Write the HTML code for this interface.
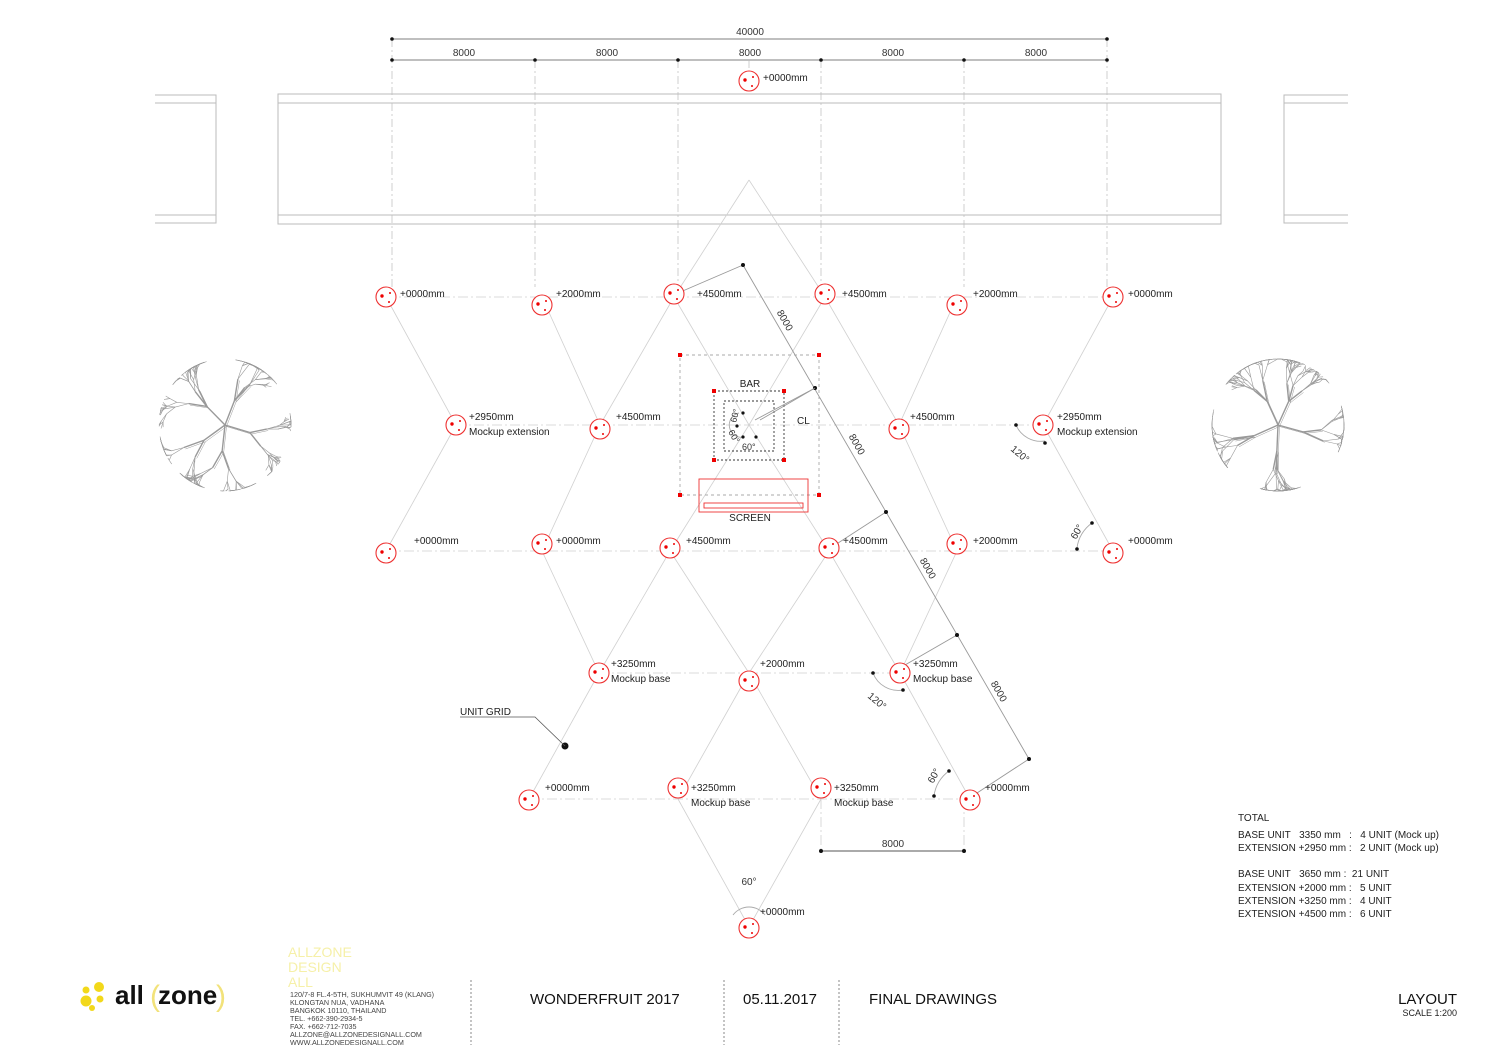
<!DOCTYPE html>
<html><head><meta charset="utf-8"><style>
html,body{margin:0;padding:0;background:#fff}
svg{display:block;fill:#222}
text{font-family:"Liberation Sans",sans-serif}
</style></head><body>
<svg id="s" width="1500" height="1060" viewBox="0 0 1500 1060" xmlns="http://www.w3.org/2000/svg">
<g stroke="#bbb" stroke-width="1" fill="none">
<path d="M155 95H216V223H155M155 103H216M155 215H216"/>
<rect x="278" y="94" width="943" height="130"/>
<path d="M278 103H1221M278 215H1221"/>
<path d="M1348 95H1284V223H1348M1284 103H1348M1284 215H1348"/>
</g>
<g stroke="#555" stroke-width="0.8">
<line x1="392" y1="39" x2="1107" y2="39"/>
<line x1="392" y1="60" x2="1107" y2="60"/>
</g>
<g stroke="#bbb" stroke-width="0.7" stroke-dasharray="8 3 2 3">
<line x1="392" y1="39" x2="392" y2="287"/><line x1="535" y1="60" x2="535" y2="287"/>
<line x1="678" y1="60" x2="678" y2="287"/><line x1="821" y1="60" x2="821" y2="287"/>
<line x1="964" y1="60" x2="964" y2="287"/><line x1="1107" y1="39" x2="1107" y2="287"/>
<line x1="749" y1="60" x2="749" y2="70"/>
</g>
<g fill="#111">
<circle cx="392" cy="39" r="1.8"/><circle cx="1107" cy="39" r="1.8"/>
<circle cx="392" cy="60" r="1.8"/><circle cx="535" cy="60" r="1.8"/><circle cx="678" cy="60" r="1.8"/><circle cx="821" cy="60" r="1.8"/><circle cx="964" cy="60" r="1.8"/><circle cx="1107" cy="60" r="1.8"/>
</g>
<g font-size="10" text-anchor="middle" fill="#333">
<text x="750" y="35">40000</text>
<text x="464" y="56">8000</text><text x="607" y="56">8000</text><text x="750" y="56">8000</text><text x="893" y="56">8000</text><text x="1036" y="56">8000</text>
</g>
<g id="grid" stroke="#d0d0d0" stroke-width="0.8" fill="none"></g>
<g stroke="#d0d0d0" stroke-width="0.8" stroke-dasharray="10 3 2 3" fill="none">
<line x1="386" y1="297" x2="1113" y2="297"/>
<line x1="456" y1="425" x2="1043" y2="425"/>
<line x1="386" y1="551" x2="1113" y2="551"/>
<line x1="599" y1="673" x2="900" y2="673"/>
<line x1="529" y1="799" x2="970" y2="799"/>
<line x1="821" y1="799" x2="821" y2="851"/><line x1="964" y1="799" x2="964" y2="851"/>
</g>
<g stroke="#999" stroke-width="0.9">
<line x1="743" y1="265" x2="1029" y2="759"/>
<line x1="743" y1="265" x2="678" y2="293"/>
<line x1="815" y1="388" x2="755" y2="420"/>
<line x1="886" y1="512" x2="835" y2="545"/>
<line x1="957" y1="635" x2="905" y2="665"/>
<line x1="1029" y1="759" x2="977" y2="793"/>
<line x1="821" y1="851" x2="964" y2="851" stroke="#555"/>
</g>
<g fill="#111">
<circle cx="743" cy="265" r="2"/><circle cx="815" cy="388" r="2"/><circle cx="886" cy="512" r="2"/><circle cx="957" cy="635" r="2"/><circle cx="1029" cy="759" r="2"/>
<circle cx="821" cy="851" r="2"/><circle cx="964" cy="851" r="2"/>
<circle cx="565" cy="746" r="3.5"/>
</g>
<g font-size="10" fill="#333">
<text transform="translate(782,322) rotate(60)" text-anchor="middle">8000</text>
<text transform="translate(854,446) rotate(60)" text-anchor="middle">8000</text>
<text transform="translate(925,570) rotate(60)" text-anchor="middle">8000</text>
<text transform="translate(996,693) rotate(60)" text-anchor="middle">8000</text>
<text x="893" y="847" text-anchor="middle">8000</text>
</g>
<g stroke="#aaa" fill="none" stroke-width="0.9">
<path d="M1016 425 A27 27 0 0 0 1045 441"/>
<path d="M1077 548 A36 36 0 0 1 1092 523"/>
<path d="M873 673 A27 27 0 0 0 903 690"/>
<path d="M934 796 A36 36 0 0 1 949 771"/>
<path d="M733 915 A20 20 0 0 1 765 915"/>
<path d="M739 413 A12 12 0 0 0 744 437"/>
</g>
<g fill="#111">
<circle cx="1016" cy="425" r="1.8"/><circle cx="1045" cy="443" r="1.8"/>
<circle cx="1077" cy="549" r="1.8"/><circle cx="1092" cy="523" r="1.8"/>
<circle cx="873" cy="673" r="1.8"/><circle cx="903" cy="690" r="1.8"/>
<circle cx="934" cy="796" r="1.8"/><circle cx="949" cy="771" r="1.8"/>
<circle cx="743" cy="413" r="1.6"/><circle cx="737" cy="426" r="1.6"/><circle cx="743" cy="437" r="1.6"/><circle cx="756" cy="437" r="1.6"/>
</g>
<g font-size="10" fill="#333">
<text transform="translate(1010,450) rotate(40)">120°</text>
<text transform="translate(1076,540) rotate(-60)">60°</text>
<text transform="translate(867,697) rotate(40)">120°</text>
<text transform="translate(933,784) rotate(-60)">60°</text>
<text x="749" y="885" text-anchor="middle">60°</text>
<text transform="translate(736,423) rotate(-75)" font-size="9">60°</text>
<text transform="translate(728,432) rotate(60)" font-size="9">60°</text>
<text x="742" y="450" font-size="9">60°</text>
</g>
<g fill="none" stroke-width="0.9">
<rect x="680" y="355" width="139" height="140" stroke="#aaa" stroke-dasharray="3 3"/>
<rect x="714" y="391" width="70" height="69" stroke="#333" stroke-dasharray="2 2"/>
<rect x="724" y="401" width="50" height="50" stroke="#333" stroke-dasharray="2 2"/>
<line x1="760" y1="420" x2="815" y2="388" stroke="#999"/>
<rect x="699" y="479" width="109" height="33" stroke="#e33"/>
<rect x="704" y="503" width="99" height="5" stroke="#e33"/>
</g>
<g fill="#e00">
<rect x="678" y="353" width="4" height="4"/><rect x="817" y="353" width="4" height="4"/><rect x="678" y="493" width="4" height="4"/><rect x="817" y="493" width="4" height="4"/>
<rect x="712" y="389" width="4" height="4"/><rect x="782" y="389" width="4" height="4"/><rect x="712" y="458" width="4" height="4"/><rect x="782" y="458" width="4" height="4"/>
</g>
<g font-size="10"><text x="750" y="387" text-anchor="middle">BAR</text><text x="797" y="424">CL</text><text x="750" y="521" text-anchor="middle">SCREEN</text></g>
<path d="M460 717H535L565 746" stroke="#555" fill="none" stroke-width="0.8"/>
<text x="460" y="715" font-size="10">UNIT GRID</text>
<g id="nodes"></g>
<g id="trees" stroke="#999" stroke-width="0.6" fill="none"></g>
<g font-size="10" fill="#222">
<text x="1238" y="821">TOTAL</text>
<text x="1238" y="838">BASE UNIT&#160;&#160; 3350 mm&#160;&#160; :&#160;&#160; 4 UNIT (Mock up)</text>
<text x="1238" y="851">EXTENSION +2950 mm :&#160;&#160; 2 UNIT (Mock up)</text>
<text x="1238" y="877">BASE UNIT&#160;&#160; 3650 mm :&#160; 21 UNIT</text>
<text x="1238" y="891">EXTENSION +2000 mm :&#160;&#160; 5 UNIT</text>
<text x="1238" y="904">EXTENSION +3250 mm :&#160;&#160; 4 UNIT</text>
<text x="1238" y="917">EXTENSION +4500 mm :&#160;&#160; 6 UNIT</text>
</g>
<g fill="#f2d81a"><circle cx="86" cy="990" r="3.5"/><circle cx="99" cy="987" r="5"/><circle cx="86" cy="1001" r="5.5"/><circle cx="100" cy="999" r="3.5"/><circle cx="92" cy="1008" r="3"/></g>
<text x="115" y="1004" font-size="26" font-weight="bold" fill="#111">all</text>
<text x="150" y="1006" font-size="30" fill="#f2e27a">(</text>
<text x="158" y="1004" font-size="26" font-weight="bold" fill="#111">zone</text>
<text x="216" y="1006" font-size="30" fill="#f2e27a">)</text>
<g font-size="14" fill="#f6f0a8"><text x="288" y="957">ALLZONE</text><text x="288" y="972">DESIGN</text><text x="288" y="987">ALL</text></g>
<g font-size="7.2" fill="#444">
<text x="290" y="997">120/7-8 FL.4-5TH, SUKHUMVIT 49 (KLANG)</text>
<text x="290" y="1005">KLONGTAN NUA, VADHANA</text>
<text x="290" y="1013">BANGKOK 10110, THAILAND</text>
<text x="290" y="1021">TEL. +662-390-2934-5</text>
<text x="290" y="1029">FAX. +662-712-7035</text>
<text x="290" y="1037">ALLZONE@ALLZONEDESIGNALL.COM</text>
<text x="290" y="1045">WWW.ALLZONEDESIGNALL.COM</text>
</g>
<g stroke="#888" stroke-dasharray="2 2"><line x1="471" y1="980" x2="471" y2="1045"/><line x1="724" y1="980" x2="724" y2="1045"/><line x1="839" y1="980" x2="839" y2="1045"/></g>
<g font-size="15" fill="#111"><text x="530" y="1004">WONDERFRUIT 2017</text><text x="743" y="1004">05.11.2017</text><text x="869" y="1004">FINAL DRAWINGS</text><text x="1457" y="1004" text-anchor="end">LAYOUT</text></g>
<text x="1457" y="1016" font-size="9" text-anchor="end">SCALE 1:200</text>
</svg>
<script>
var NS="http://www.w3.org/2000/svg";
function el(p,t,a,txt){var e=document.createElementNS(NS,t);for(var k in a)e.setAttribute(k,a[k]);if(txt)e.textContent=txt;document.getElementById(p).appendChild(e);return e;}
var segs=[[386,297,456,425],[456,425,386,551],[542,297,600,425],[600,425,542,551],[542,551,599,673],[599,673,529,799],[599,673,670,551],[674,297,749,180],[825,297,749,180],[674,297,749,425],[825,297,749,425],[957,297,899,425],[899,425,957,551],[1113,297,1043,425],[1043,425,1113,551],[749,425,670,551],[749,425,829,551],[670,551,749,673],[829,551,749,673],[749,673,678,799],[749,673,821,799],[678,799,749,927],[821,799,749,927],[829,551,900,673],[900,673,970,799],[957,551,900,673],[600,425,674,297],[899,425,825,297]];
segs.forEach(function(s){el("grid","line",{x1:s[0],y1:s[1],x2:s[2],y2:s[3]});});
var N=[[749,81,"+0000mm"],[386,297,"+0000mm"],[542,305,"+2000mm"],[674,294,"+4500mm"],[825,294,"+4500mm"],[957,305,"+2000mm"],[1113,297,"+0000mm"],
[456,425,"+2950mm","Mockup  extension"],[600,429,"+4500mm"],[899,429,"+4500mm"],[1043,425,"+2950mm","Mockup  extension"],
[386,553,"+0000mm"],[542,544,"+0000mm"],[670,548,"+4500mm"],[829,548,"+4500mm"],[957,544,"+2000mm"],[1113,553,"+0000mm"],
[599,673,"+3250mm","Mockup  base"],[749,681,"+2000mm"],[900,673,"+3250mm","Mockup  base"],
[529,800,"+0000mm"],[678,788,"+3250mm","Mockup  base"],[821,788,"+3250mm","Mockup  base"],[970,800,"+0000mm"],[749,928,"+0000mm"]];
var lab={"749,81":[763,81],"386,553":[414,544],"542,544":[556,544],"670,548":[686,544],"829,548":[843,544],"957,544":[973,544],"1113,553":[1128,544],"749,681":[760,667],"529,800":[545,791],"970,800":[985,791],"749,928":[760,915],"542,305":[556,297],"957,305":[973,297],"386,297":[400,297],"1113,297":[1128,297],"674,294":[697,297],"825,294":[842,297],"600,429":[616,420],"899,429":[910,420],"456,425":[469,420],"1043,425":[1057,420],"599,673":[611,667],"900,673":[913,667],"678,788":[691,791],"821,788":[834,791]};
N.forEach(function(n){
 el("nodes","circle",{cx:n[0],cy:n[1],r:10,fill:"#fff",stroke:"#e33","stroke-width":1.1});
 el("nodes","circle",{cx:n[0]-4,cy:n[1]-1,r:1.7,fill:"#e00"});
 el("nodes","circle",{cx:n[0]+4,cy:n[1]-4,r:1,fill:"#e00"});
 el("nodes","circle",{cx:n[0]+3,cy:n[1]+5,r:1,fill:"#e00"});
 var p=lab[n[0]+","+n[1]];
 el("nodes","text",{x:p[0],y:p[1],"font-size":10},n[2]);
 if(n[3])el("nodes","text",{x:p[0],y:p[1]+15,"font-size":10,"xml:space":"preserve"},n[3]);
});
function tree(cx,cy,sd){
 var seed=sd;function r(){seed=(seed*9301+49297)%233280;return seed/233280;}
 function br(x,y,a,len,d){if(d>5||len<5)return;var x2=x+Math.cos(a)*len,y2=y+Math.sin(a)*len;
  var h=Math.hypot(x2-cx,y2-cy);if(h>66){var k=66/h;x2=cx+(x2-cx)*k;y2=cy+(y2-cy)*k;}
  el("trees","line",{x1:x,y1:y,x2:x2,y2:y2,"stroke-width":d<2?1.4:0.6});
  if(d<2)el("trees","line",{x1:x+1.5,y1:y+1.5,x2:x2+1.5,y2:y2+1.5,"stroke-width":0.5});
  var n=2+(r()<0.5?1:0);for(var i=0;i<n;i++)br(x2,y2,a+(r()-0.5)*1.3,len*(0.6+r()*0.25),d+1);}
 for(var i=0;i<5;i++)br(cx,cy,i*Math.PI*2/5+r()*0.6,26,0);
}
tree(225,425,7);tree(1278,425,31);
</script>
</body></html>
